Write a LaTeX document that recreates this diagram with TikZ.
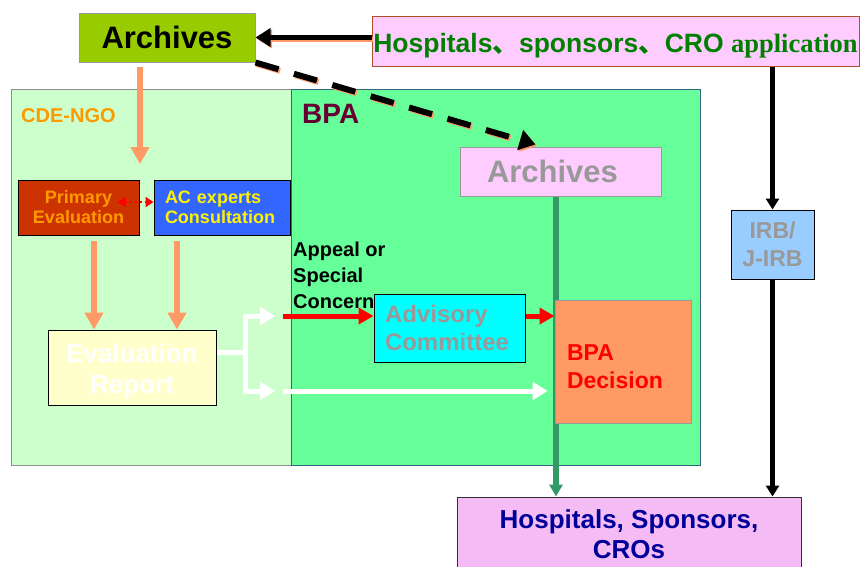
\documentclass[tikz,border=0pt]{standalone}
\usepackage{fontspec}
\setmainfont{Liberation Sans}
\newfontfamily\cjkfont{Noto Sans CJK SC}
\newfontfamily\serifbold{Liberation Serif}
\usetikzlibrary{arrows.meta,calc}
\definecolor{archgreen}{HTML}{99CC00}
\definecolor{pinkbox}{HTML}{FFCCFF}
\definecolor{hospedge}{HTML}{B0502A}
\definecolor{darkgreen}{HTML}{008000}
\definecolor{ngofill}{HTML}{CCFFCC}
\definecolor{bpafill}{HTML}{66FF99}
\definecolor{bpaedge}{HTML}{336680}
\definecolor{ngolabel}{HTML}{FF9900}
\definecolor{bpalabel}{HTML}{660033}
\definecolor{salmon}{HTML}{FF9966}
\definecolor{primfill}{HTML}{CC3300}
\definecolor{acblue}{HTML}{3366FF}
\definecolor{evalfill}{HTML}{FFFFCC}
\definecolor{advfill}{HTML}{00FFFF}
\definecolor{txtgray}{HTML}{999999}
\definecolor{irbfill}{HTML}{99CCFF}
\definecolor{bottomfill}{HTML}{F5BBF5}
\definecolor{navytext}{HTML}{000099}
\definecolor{linegreen}{HTML}{339966}
\tikzset{fs/.style 2 args={font=\fontsize{#1}{#2}\selectfont\bfseries}}

\begin{document}
\begin{tikzpicture}[x=1pt,y=-1pt]
\tikzstyle{every node}+=[inner sep=0pt]
\tikzstyle{box}=[draw, line width=1pt]
\tikzstyle{region}=[draw, line width=1pt]
\tikzstyle{shadow}=[draw=salmon, transform canvas={shift={(1.5pt,-1.5pt)}}]
\tikzstyle{blackarrow}=[draw=black, line width=5pt, -{Triangle[length=15pt,width=18pt]}]
\tikzstyle{dasharrow}=[draw=black, line width=6pt, dash pattern=on 24pt off 16pt, -{Triangle[length=16pt,width=20pt]}]
\tikzstyle{orangearrow}=[draw=salmon, line width=6pt, -{Triangle[length=17pt,width=18pt]}]
\tikzstyle{reddots}=[draw=red, line width=2pt, dash pattern=on 2pt off 3pt, {Triangle[length=8pt,width=10pt]}-{Triangle[length=8pt,width=10pt]}]
\tikzstyle{whiteline}=[draw=white, line width=5pt]
\tikzstyle{whitearrow}=[whiteline, -{Triangle[length=15pt,width=18pt]}]
\tikzstyle{redarrow}=[draw=red, line width=5pt, -{Triangle[length=15pt,width=16pt]}]
\tikzstyle{greenarrow}=[draw=linegreen, line width=6pt, -{Triangle[length=12pt,width=13pt]}]
\tikzstyle{blackline}=[draw=black, line width=5pt, -{Triangle[length=11pt,width=13pt]}]
\useasboundingbox (0,0) rectangle (861,566);

\node [region, fill=ngofill, draw=gray!90, minimum width=280, minimum height=376] (cde) at (151,277) {};
\node [region, fill=bpafill, draw=bpaedge, minimum width=409, minimum height=376] (bpa) at (495.5,277) {};
\node [fs={20}{20}, text=ngolabel, anchor=base west] (ngolbl) at (21,122) {CDE-NGO};
\node [fs={28}{28}, text=bpalabel, anchor=base west] (bpalbl) at (302,123) {BPA};

\node [box, fill=archgreen, draw=gray!80, minimum width=176, minimum height=49, fs={31}{31}] (arch1) at (167,37.5) {Archives};
\node [box, fill=pinkbox, draw=hospedge, minimum width=487, minimum height=50, text height=22pt, text depth=0pt, fs={26.5}{26.5}, text=darkgreen] (hosp) at (615.5,41) {Hospitals{\cjkfont 、}sponsors{\cjkfont 、}CRO {\serifbold application}};
\node [box, fill=pinkbox, draw=gray!80, minimum width=201, minimum height=49, text width=147, align=left, fs={31}{31}, text=txtgray] (arch2) at (560.5,171.5) {Archives};
\node [box, fill=bottomfill, draw=black!80, minimum width=344, minimum height=74, align=center, fs={26}{30}, text=navytext] (bottom) at (629,534) {Hospitals, Sponsors,\\CROs};

\coordinate (gtop) at ($(arch2.south)+(-4.5,0)$);
\draw [greenarrow] (gtop) -- (gtop |- bottom.north);

\node [box, fill=salmon, draw=gray!80, minimum width=136, minimum height=123, text width=112, align=left, fs={23}{28}, text=red] (decision) at (623,361.5) {\rule{0pt}{27pt}BPA\\Decision};
\node [box, fill=primfill, minimum width=121, minimum height=55, align=center, fs={18}{20}, text=ngolabel] (prim) at (78.5,207.5) {Primary\\Evaluation};
\node [box, fill=acblue, minimum width=136, minimum height=55, text width=114, align=left, fs={18}{20}, text=yellow] (acexp) at (222,207.5) {AC experts\\Consultation};
\node [box, fill=evalfill, minimum width=168, minimum height=75, align=center, fs={26}{31}, text=white] (evalrep) at (132,367.5) {\rule{0pt}{27pt}Evaluation\\Report};
\node [box, fill=advfill, minimum width=151, minimum height=68, text width=129, align=left, fs={24}{28}, text=txtgray] (advis) at (449.5,328) {Advisory\\Committee};
\node [box, fill=irbfill, minimum width=83, minimum height=69, align=center, fs={23}{28}, text=txtgray] (irb) at (772.5,244.5) {IRB/\\J-IRB};
\node [fs={20}{26}, align=left, anchor=north west] (appeal) at (293,242) {Appeal or\\Special\\Concern};

\draw [blackarrow, shadow] (hosp.west |- arch1.east) -- (arch1.east);
\draw [blackarrow] (hosp.west |- arch1.east) -- (arch1.east);
\coordinate (archtip) at ($(arch2.north)+(-25,-2)$);
\draw [dasharrow, shadow] (arch1.south east) -- (archtip);
\draw [dasharrow] (arch1.south east) -- (archtip);

\coordinate (ngoin) at (140,164);
\draw [orangearrow] ($(arch1.south)+(-27,4)$) -- (ngoin);
\draw [reddots] ($(prim.east)+(-22,-5.5)$) -- ($(acexp.west)+(0,-5.5)$);
\coordinate (p1) at ($(prim.south)+(15.5,5)$);
\coordinate (p2) at ($(acexp.south)+(-45,5)$);
\draw [orangearrow] (p1) -- (p1 |- evalrep.north);
\draw [orangearrow] (p2) -- (p2 |- evalrep.north);

\coordinate (evout) at ($(evalrep.east)+(0,-15)$);
\coordinate (fork) at ($(evout)+(29,0)$);
\coordinate (upend) at (275,316);
\coordinate (lowend) at (275,391);
\draw [whiteline] (evout) -- (fork);
\draw [whitearrow] (fork) |- (upend);
\draw [whitearrow] (fork) |- (lowend);
\coordinate (appin) at (283,316);
\coordinate (lowin) at (283,391);
\draw [redarrow] (appin) -- (appin -| advis.west);
\draw [redarrow] (appin -| advis.east) -- (appin -| decision.west);
\draw [whitearrow, shorten >=7pt] (lowin) -- (lowin -| decision.west);

\draw [blackline] (irb.north |- hosp.south) -- (irb.north);
\draw [blackline] (irb.south) -- (irb.south |- bottom.north);
\end{tikzpicture}
\end{document}
